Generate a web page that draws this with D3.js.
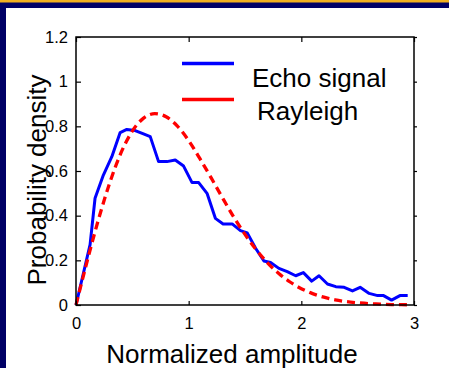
<!DOCTYPE html>
<html>
<head>
<meta charset="utf-8">
<script src="https://cdn.jsdelivr.net/npm/d3@7"></script>
<style>
    body { margin: 0; overflow: hidden; }
    text { font-family: "Liberation Sans", Arial, sans-serif; fill: #000; }
</style>
</head>
<body>
<div id="chart"></div>
<script>
// echo signal histogram
let echoX = [0, 0.125, 0.169, 0.243, 0.318, 0.392, 0.451, 0.525, 0.599, 0.659, 0.733, 0.807, 0.881,
    0.955, 1.03, 1.089, 1.163, 1.237, 1.306, 1.386, 1.46, 1.52, 1.594, 1.668, 1.727, 1.801, 1.875,
    1.95, 2.018, 2.092, 2.157, 2.232, 2.306, 2.38, 2.454, 2.522, 2.602, 2.677, 2.73, 2.801, 2.875, 2.944];
let echoY = [0, 0.27, 0.478, 0.582, 0.664, 0.772, 0.786, 0.781, 0.766, 0.754, 0.642, 0.642, 0.649,
    0.622, 0.548, 0.548, 0.5, 0.388, 0.363, 0.363, 0.333, 0.323, 0.254, 0.197, 0.19, 0.164, 0.149,
    0.131, 0.145, 0.107, 0.131, 0.094, 0.082, 0.079, 0.063, 0.079, 0.052, 0.042, 0.042, 0.022, 0.042, 0.042];

// rayleigh curve
let rayX = [0, 0.1, 0.2, 0.3, 0.4, 0.5, 0.6, 0.7, 0.8, 0.9, 1.0, 1.1, 1.2, 1.3, 1.4, 1.5, 1.6, 1.7,
    1.8, 1.9, 2.0, 2.1, 2.2, 2.3, 2.4, 2.5, 2.6, 2.7, 2.8, 2.95];
let rayY = [0, 0.198, 0.384, 0.548, 0.682, 0.779, 0.837, 0.857, 0.843, 0.801, 0.736, 0.655, 0.569,
    0.48, 0.394, 0.316, 0.247, 0.189, 0.141, 0.103, 0.073, 0.051, 0.035, 0.023, 0.015, 0.01, 0.006,
    0.004, 0.002, 0.001];

let xTicks = [0, 1, 2, 3];
let yTicks = [0, 0.2, 0.4, 0.6, 0.8, 1, 1.2];
let seriesNames = ['Echo signal', 'Rayleigh'];

let margin = {top: 37, right: 35, bottom: 63, left: 76};
let W = 449, H = 368;
let width = W - margin.left - margin.right;
let height = H - margin.top - margin.bottom;

let svg = d3.select('#chart').append('svg')
    .attr('width', W)
    .attr('height', H);

// slide background
svg.append('rect').attr('width', W).attr('height', H).attr('fill', '#000066');
svg.append('rect').attr('width', W).attr('height', 2.5).attr('fill', '#f0b020');
svg.append('rect').attr('x', 6).attr('y', 8).attr('width', W - 6).attr('height', H - 8).attr('fill', '#fff');

let g = svg.append('g')
    .attr('transform', 'translate(' + margin.left + ',' + margin.top + ')');

let x = d3.scaleLinear().domain([0, 3]).range([0, width]);
let y = d3.scaleLinear().domain([0, 1.2]).range([height, 0]);

let line = d3.line()
    .x(function(d) { return x(d[0]); })
    .y(function(d) { return y(d[1]); });

g.append('path')
    .datum(echoX.map(function(v, i) { return [v, echoY[i]]; }))
    .attr('fill', 'none')
    .attr('stroke', '#0000ff')
    .attr('stroke-width', 3)
    .attr('stroke-linejoin', 'round')
    .attr('d', line);

g.append('path')
    .datum(rayX.map(function(v, i) { return [v, rayY[i]]; }))
    .attr('fill', 'none')
    .attr('stroke', '#ff0000')
    .attr('stroke-width', 3.3)
    .attr('stroke-dasharray', '8,5')
    .attr('d', line.curve(d3.curveMonotoneX));

// axes, ticks pointing inward
let axisStyle = function(sel) {
    sel.select('.domain').remove();
    sel.selectAll('line').attr('stroke', '#000').attr('stroke-width', 1.2);
    sel.selectAll('text').style('font-size', '16.5px').style('font-family', '"Liberation Sans", Arial, sans-serif');
};

g.append('g')
    .call(d3.axisLeft(y).tickValues(yTicks).tickFormat(d3.format('~g')).tickSizeInner(-5).tickSizeOuter(0).tickPadding(8))
    .call(axisStyle);

g.append('g')
    .attr('transform', 'translate(0,' + height + ')')
    .call(d3.axisBottom(x).tickValues(xTicks).tickFormat(d3.format('d')).tickSizeInner(-4).tickSizeOuter(0).tickPadding(12))
    .call(axisStyle);

g.append('g')
    .call(d3.axisTop(x).tickValues(xTicks).tickFormat('').tickSizeInner(-5).tickSizeOuter(0))
    .call(axisStyle);

g.append('g')
    .attr('transform', 'translate(' + width + ',0)')
    .call(d3.axisRight(y).tickValues(yTicks).tickFormat('').tickSizeInner(3).tickSizeOuter(0))
    .call(axisStyle);

g.append('rect')
    .attr('width', width)
    .attr('height', height)
    .attr('fill', 'none')
    .attr('stroke', '#000')
    .attr('stroke-width', 1.5);

// legend
let legend = svg.append('g');
let legendRows = [
    {name: seriesNames[0], color: '#0000ff', ly: 63.5, tx: 252, ty: 87},
    {name: seriesNames[1], color: '#ff0000', ly: 99.5, tx: 257, ty: 120}
];
legendRows.forEach(function(r) {
    legend.append('line')
        .attr('x1', 182).attr('x2', 234)
        .attr('y1', r.ly).attr('y2', r.ly)
        .attr('stroke', r.color)
        .attr('stroke-width', 3.5);
    legend.append('text')
        .attr('x', r.tx)
        .attr('y', r.ty)
        .style('font-size', '26px')
        .text(r.name);
});

// axis titles
svg.append('text')
    .attr('x', margin.left + width / 2 - 13)
    .attr('y', 363)
    .attr('text-anchor', 'middle')
    .style('font-size', '26px')
    .text('Normalized amplitude');

svg.append('text')
    .attr('transform', 'translate(45.5,180) rotate(-90)')
    .attr('text-anchor', 'middle')
    .style('font-size', '26px')
    .text('Probability density');
</script>
</body>
</html>
